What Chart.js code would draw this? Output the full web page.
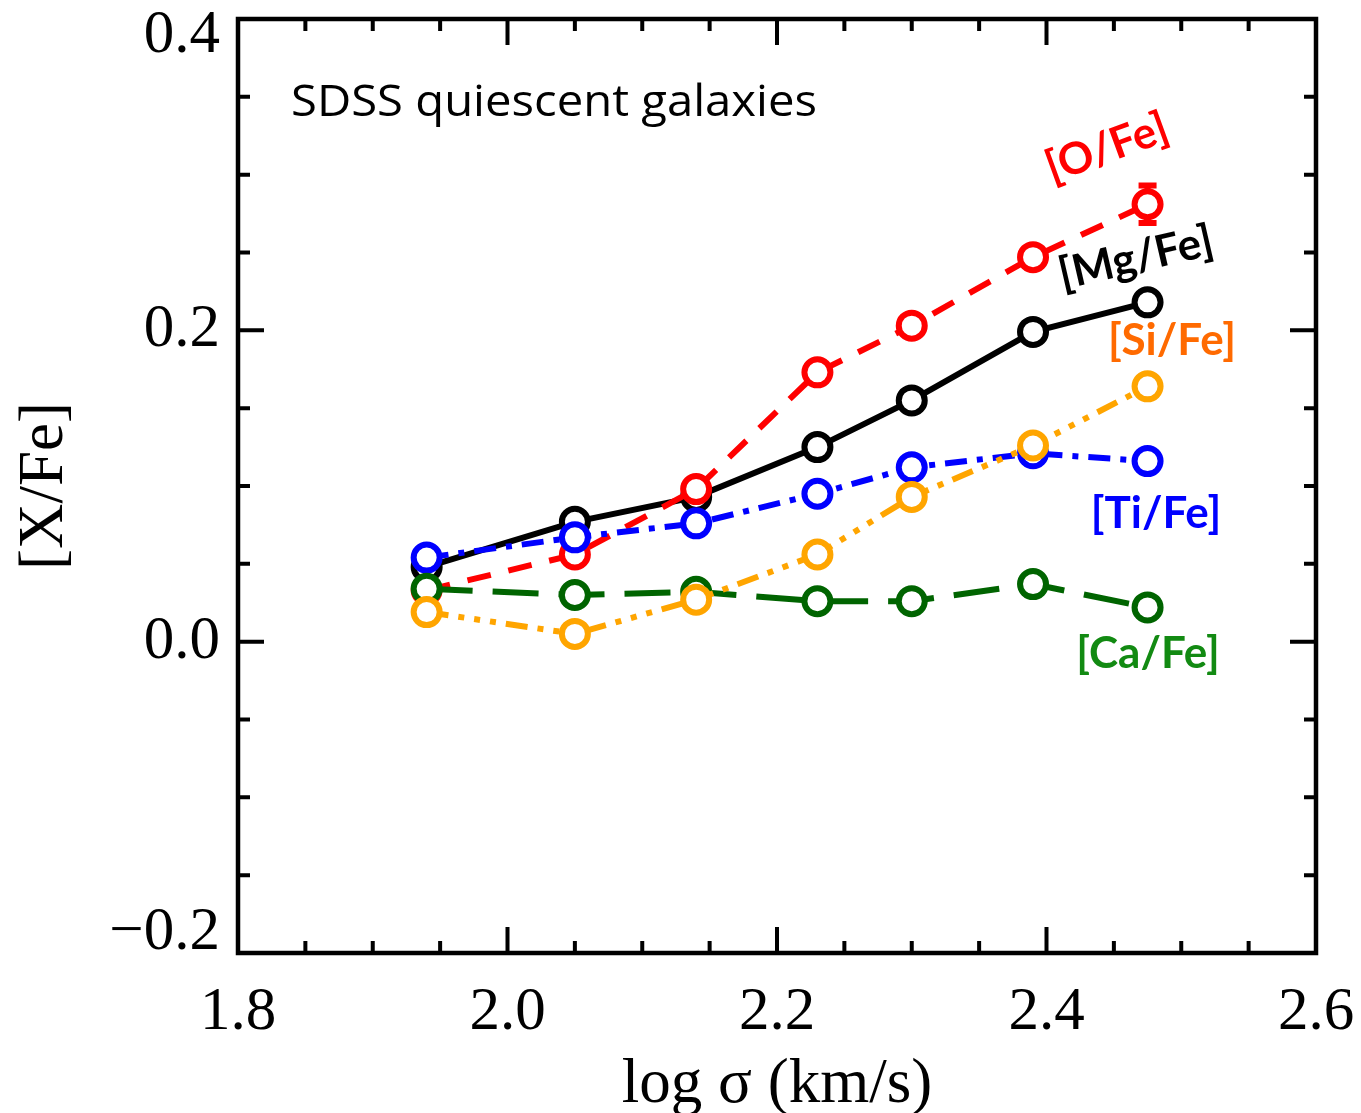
<!DOCTYPE html>
<html>
<head>
<meta charset="utf-8">
<title>[X/Fe] vs log sigma</title>
<script src="https://cdn.jsdelivr.net/npm/chart.js@4/dist/chart.umd.min.js"></script>
<style>
  html, body { margin: 0; padding: 0; background: #fff; }
  canvas { display: block; }
</style>
</head>
<body>
<canvas id="c" width="1361" height="1113"></canvas>
<script>
// Velocity-dispersion bins (log sigma, km/s)
const logSigma = [1.94, 2.05, 2.14, 2.23, 2.30, 2.39, 2.475];

// Abundance ratios per bin
const mgFe = [0.048, 0.077, 0.093, 0.125, 0.155, 0.199, 0.218];
const oFe  = [0.033, 0.056, 0.098, 0.173, 0.203, 0.247, 0.281];
const siFe = [0.019, 0.005, 0.027, 0.056, 0.093, 0.126, 0.164];
const tiFe = [0.054, 0.067, 0.076, 0.095, 0.112, 0.121, 0.116];
const caFe = [0.034, 0.030, 0.032, 0.026, 0.026, 0.037, 0.022];

// Uncertainty on [O/Fe] (only the last bin is larger than the marker)
const oFeErr = [0, 0, 0, 0, 0, 0, 0.012];

// Axis ticks
const xTickValues = [1.8, 2.0, 2.2, 2.4, 2.6];
const xTickLabels = ['1.8', '2.0', '2.2', '2.4', '2.6'];
const yTickValues = [-0.2, 0.0, 0.2, 0.4];
const yTickLabels = ['\u22120.2', '0.0', '0.2', '0.4'];
const minorStep = 0.05;

// Element labels
const elementLabels = ['[O/Fe]', '[Mg/Fe]', '[Si/Fe]', '[Ti/Fe]', '[Ca/Fe]'];

const toPoints = (ys) => logSigma.map((x, i) => ({ x: x, y: ys[i] }));

function series(label, ys, color, dash, order) {
  return {
    label: label,
    data: toPoints(ys),
    showLine: true,
    borderColor: color,
    borderWidth: 6,
    borderDash: dash,
    pointRadius: 13,
    pointBorderWidth: 6,
    pointBackgroundColor: '#ffffff',
    pointBorderColor: color,
    pointHoverRadius: 13,
    order: order,
    clip: false
  };
}

const SERIF = '"Liberation Serif", "Times New Roman", serif';
const LABEL_FONT = 'bold 44px Lato, "Open Sans", sans-serif';

const framePlugin = {
  id: 'frame',
  beforeDatasetsDraw(chart) {
    const ctx = chart.ctx;
    const xs = chart.scales.x, ys = chart.scales.y;
    ctx.save();
    ctx.strokeStyle = '#ff0000';
    ctx.lineWidth = 6;
    oFe.forEach((v, i) => {
      const e = oFeErr[i];
      if (!e) return;
      const px = xs.getPixelForValue(logSigma[i]);
      const top = ys.getPixelForValue(v + e);
      const bot = ys.getPixelForValue(v - e);
      ctx.beginPath();
      ctx.moveTo(px, top); ctx.lineTo(px, bot);
      ctx.moveTo(px - 9, top); ctx.lineTo(px + 9, top);
      ctx.moveTo(px - 9, bot); ctx.lineTo(px + 9, bot);
      ctx.stroke();
    });
    ctx.restore();
  },
  afterDraw(chart) {
    const ctx = chart.ctx;
    const a = chart.chartArea;
    const xs = chart.scales.x, ys = chart.scales.y;
    ctx.save();

    // Frame
    ctx.strokeStyle = '#000';
    ctx.lineWidth = 4.5;
    ctx.strokeRect(a.left, a.top, a.right - a.left, a.bottom - a.top);

    // Inward ticks on all four sides
    ctx.lineWidth = 4;
    const majorLen = 26, minorLen = 12;
    const isMajor = (v, list) => list.some(t => Math.abs(t - v) < 1e-6);
    ctx.beginPath();
    for (let v = xs.min; v <= xs.max + 1e-9; v += minorStep) {
      const px = xs.getPixelForValue(v);
      const len = isMajor(v, xTickValues) ? majorLen : minorLen;
      ctx.moveTo(px, a.bottom); ctx.lineTo(px, a.bottom - len);
      ctx.moveTo(px, a.top); ctx.lineTo(px, a.top + len);
    }
    for (let v = ys.min; v <= ys.max + 1e-9; v += minorStep) {
      const py = ys.getPixelForValue(v);
      const len = isMajor(v, yTickValues) ? majorLen : minorLen;
      ctx.moveTo(a.left, py); ctx.lineTo(a.left + len, py);
      ctx.moveTo(a.right, py); ctx.lineTo(a.right - len, py);
    }
    ctx.stroke();

    // Tick labels
    ctx.fillStyle = '#000';
    ctx.font = '61px ' + SERIF;
    ctx.textAlign = 'center';
    ctx.textBaseline = 'middle';
    xTickValues.forEach((v, i) => {
      ctx.fillText(xTickLabels[i], xs.getPixelForValue(v), a.bottom + 60);
    });
    ctx.textAlign = 'right';
    yTickValues.forEach((v, i) => {
      let py = ys.getPixelForValue(v);
      py = Math.min(Math.max(py, a.top + 17), a.bottom - 20);
      ctx.fillText(yTickLabels[i], a.left - 18, py);
    });

    // Axis titles
    ctx.font = '63px ' + SERIF;
    ctx.textAlign = 'center';
    ctx.textBaseline = 'alphabetic';
    ctx.fillText('log \u03c3 (km/s)', (a.left + a.right) / 2, 1102);
    ctx.save();
    ctx.translate(62, (a.top + a.bottom) / 2);
    ctx.rotate(-Math.PI / 2);
    ctx.fillText('[X/Fe]', 0, 0);
    ctx.restore();

    // Sample description, stretched to its run length
    ctx.save();
    ctx.font = '43px "Open Sans", "Noto Sans", sans-serif';
    ctx.textAlign = 'left';
    ctx.textBaseline = 'alphabetic';
    const desc = 'SDSS quiescent galaxies';
    const w = ctx.measureText(desc).width;
    ctx.translate(291, 116);
    ctx.scale(526 / w, 1);
    ctx.fillText(desc, 0, 0);
    ctx.restore();

    // Element labels beside their curves
    const label = (text, color, cx, cy, deg) => {
      ctx.save();
      ctx.translate(cx, cy);
      ctx.rotate(deg * Math.PI / 180);
      ctx.font = LABEL_FONT;
      ctx.fillStyle = color;
      ctx.textAlign = 'center';
      ctx.textBaseline = 'middle';
      ctx.fillText(text, 0, 0);
      ctx.restore();
    };
    label(elementLabels[0], '#ff0000', 1107, 148, -20);
    label(elementLabels[1], '#000000', 1136, 258, -13);
    label(elementLabels[2], '#ff6a00', 1172, 341, 0);
    label(elementLabels[3], '#0000ff', 1156, 514, 0);
    label(elementLabels[4], '#128a12', 1148, 654, 0);

    ctx.restore();
  }
};

new Chart(document.getElementById('c'), {
  type: 'scatter',
  data: {
    datasets: [
      series('[Mg/Fe]', mgFe, '#000000', [], 5),
      series('[O/Fe]',  oFe,  '#ff0000', [24, 18], 4),
      series('[Ti/Fe]', tiFe, '#0000ff', [22, 10, 6, 10], 3),
      series('[Ca/Fe]', caFe, '#006400', [46, 20], 2),
      series('[Si/Fe]', siFe, '#ffa500', [22, 10, 6, 10, 6, 10, 6, 10], 1)
    ]
  },
  plugins: [framePlugin],
  options: {
    responsive: false,
    animation: false,
    devicePixelRatio: 1,
    layout: { padding: { left: 238, right: 45, top: 13, bottom: 160 } },
    plugins: { legend: { display: false }, tooltip: { enabled: false } },
    scales: {
      x: { type: 'linear', min: 1.8, max: 2.6, display: false },
      y: { type: 'linear', min: -0.2, max: 0.4, display: false }
    }
  }
});
</script>
</body>
</html>
